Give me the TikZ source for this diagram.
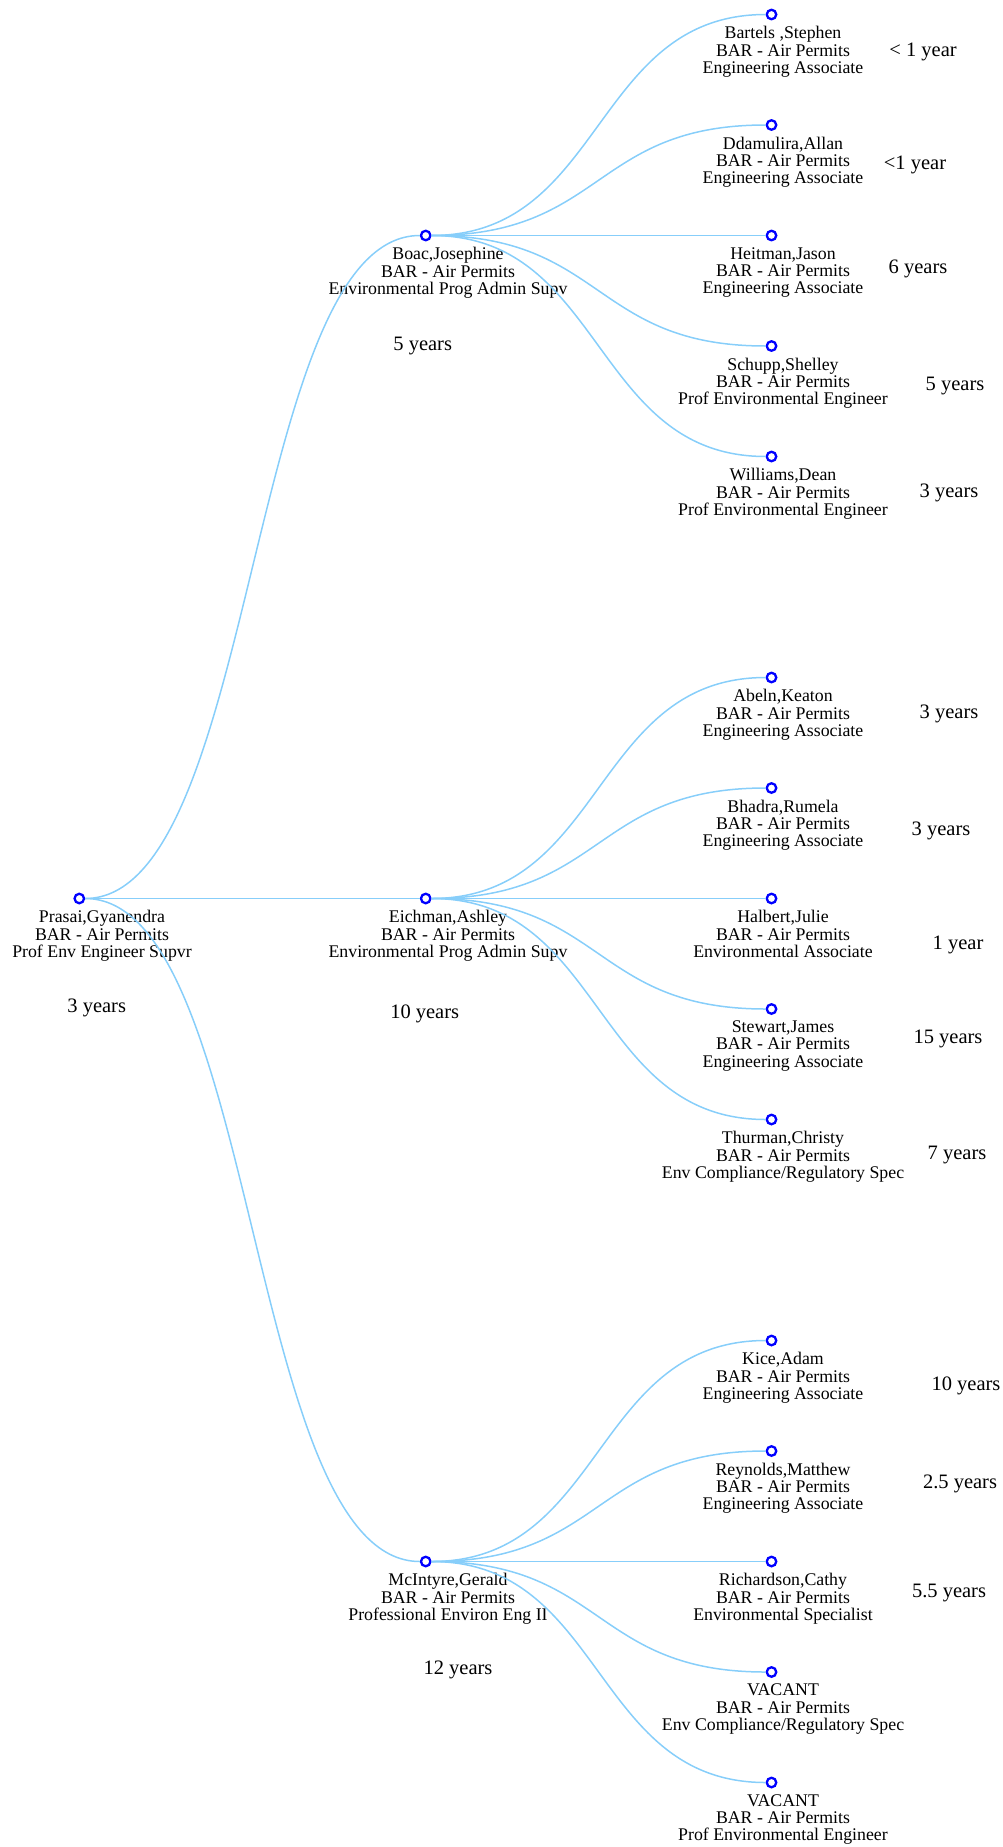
\documentclass[tikz,border=0pt]{standalone}
\usepackage{fontspec}
\setmainfont{Liberation Serif}
\usetikzlibrary{positioning}
\definecolor{linkblue}{RGB}{135,206,250}
\tikzstyle{person} = [draw=blue, circle, fill=white, line width=2.3pt, minimum size=9.5pt, inner sep=0pt]
\tikzstyle{info} = [align=center, inner sep=0pt, outer sep=0pt, font=\fontsize{17.8}{17.3}\selectfont]
\tikzstyle{tenure} = [anchor=base, inner sep=0pt, font=\fontsize{20.5}{24}\selectfont]
\tikzstyle{link} = [draw=linkblue, line width=1.5pt, out=0, in=180, distance=173pt]

\begin{document}
\begin{tikzpicture}[x=1pt, y=-1pt]
    \useasboundingbox (0,0) rectangle (1003,1847);

    % Nodes
    \node[person] (root) at (79.3,898.5) {};
    \node[person] (boac) at (425.7,235.5) {};
    \node[person] (eichman) at (425.7,898.5) {};
    \node[person] (mcintyre) at (425.7,1561.5) {};

    \node[person] (bartels) at (771.5,14.5) {};
    \node[person] (ddamulira) at (771.5,125) {};
    \node[person] (heitman) at (771.5,235.5) {};
    \node[person] (schupp) at (771.5,346) {};
    \node[person] (williams) at (771.5,456.5) {};

    \node[person] (abeln) at (771.5,677.5) {};
    \node[person] (bhadra) at (771.5,788) {};
    \node[person] (halbert) at (771.5,898.5) {};
    \node[person] (stewart) at (771.5,1009) {};
    \node[person] (thurman) at (771.5,1119.5) {};

    \node[person] (kice) at (771.5,1340.5) {};
    \node[person] (reynolds) at (771.5,1451) {};
    \node[person] (richardson) at (771.5,1561.5) {};
    \node[person] (vacantA) at (771.5,1672) {};
    \node[person] (vacantB) at (771.5,1782.5) {};

    % Labels
    \node[info, below=6pt of root, xshift=22.7pt] (rootinfo) {Prasai,Gyanendra\\BAR - Air Permits\\Prof Env Engineer Supvr};
    \node[info, below=6pt of boac, xshift=22.3pt] (boacinfo) {Boac,Josephine\\BAR - Air Permits\\Environmental Prog Admin Supv};
    \node[info, below=6pt of eichman, xshift=22.3pt] (eichmaninfo) {Eichman,Ashley\\BAR - Air Permits\\Environmental Prog Admin Supv};
    \node[info, below=6pt of mcintyre, xshift=22.3pt] (mcintyreinfo) {McIntyre,Gerald\\BAR - Air Permits\\Professional Environ Eng II};

    \node[info, below=6pt of bartels, xshift=11.5pt] (bartelsinfo) {Bartels ,Stephen\\BAR - Air Permits\\Engineering Associate};
    \node[info, below=6pt of ddamulira, xshift=11.5pt] (ddamulirainfo) {Ddamulira,Allan\\BAR - Air Permits\\Engineering Associate};
    \node[info, below=6pt of heitman, xshift=11.5pt] (heitmaninfo) {Heitman,Jason\\BAR - Air Permits\\Engineering Associate};
    \node[info, below=6pt of schupp, xshift=11.5pt] (schuppinfo) {Schupp,Shelley\\BAR - Air Permits\\Prof Environmental Engineer};
    \node[info, below=6pt of williams, xshift=11.5pt] (williamsinfo) {Williams,Dean\\BAR - Air Permits\\Prof Environmental Engineer};

    \node[info, below=6pt of abeln, xshift=11.5pt] (abelninfo) {Abeln,Keaton\\BAR - Air Permits\\Engineering Associate};
    \node[info, below=6pt of bhadra, xshift=11.5pt] (bhadrainfo) {Bhadra,Rumela\\BAR - Air Permits\\Engineering Associate};
    \node[info, below=6pt of halbert, xshift=11.5pt] (halbertinfo) {Halbert,Julie\\BAR - Air Permits\\Environmental Associate};
    \node[info, below=6pt of stewart, xshift=11.5pt] (stewartinfo) {Stewart,James\\BAR - Air Permits\\Engineering Associate};
    \node[info, below=6pt of thurman, xshift=11.5pt] (thurmaninfo) {Thurman,Christy\\BAR - Air Permits\\Env Compliance/Regulatory Spec};

    \node[info, below=6pt of kice, xshift=11.5pt] (kiceinfo) {Kice,Adam\\BAR - Air Permits\\Engineering Associate};
    \node[info, below=6pt of reynolds, xshift=11.5pt] (reynoldsinfo) {Reynolds,Matthew\\BAR - Air Permits\\Engineering Associate};
    \node[info, below=6pt of richardson, xshift=11.5pt] (richardsoninfo) {Richardson,Cathy\\BAR - Air Permits\\Environmental Specialist};
    \node[info, below=6pt of vacantA, xshift=11.5pt] (vacantAinfo) {VACANT\\BAR - Air Permits\\Env Compliance/Regulatory Spec};
    \node[info, below=6pt of vacantB, xshift=11.5pt] (vacantBinfo) {VACANT\\BAR - Air Permits\\Prof Environmental Engineer};

    % Years
    \node[tenure] (rootyrs) at (96.7,1012) {3 years};
    \node[tenure] (boacyrs) at (422.7,350) {5 years};
    \node[tenure] (eichmanyrs) at (424.7,1018) {10 years};
    \node[tenure] (mcintyreyrs) at (458,1674) {12 years};

    \node[tenure] (bartelsyrs) at (923,56) {< 1 year};
    \node[tenure] (ddamulirayrs) at (915,169) {<1 year};
    \node[tenure] (heitmanyrs) at (918,273) {6 years};
    \node[tenure] (schuppyrs) at (955,390) {5 years};
    \node[tenure] (williamsyrs) at (949,497) {3 years};

    \node[tenure] (abelnyrs) at (949,718) {3 years};
    \node[tenure] (bhadrayrs) at (941,835) {3 years};
    \node[tenure] (halbertyrs) at (958,949) {1 year};
    \node[tenure] (stewartyrs) at (948,1043) {15 years};
    \node[tenure] (thurmanyrs) at (957,1159) {7 years};

    \node[tenure] (kiceyrs) at (966,1390) {10 years};
    \node[tenure] (reynoldsyrs) at (960,1488) {2.5 years};
    \node[tenure] (richardsonyrs) at (949,1597) {5.5 years};

    % Edges
    \draw[link] (root) to (boac);
    \draw[link] (root) to (eichman);
    \draw[link] (root) to (mcintyre);

    \draw[link] (boac) to (bartels);
    \draw[link] (boac) to (ddamulira);
    \draw[link] (boac) to (heitman);
    \draw[link] (boac) to (schupp);
    \draw[link] (boac) to (williams);

    \draw[link] (eichman) to (abeln);
    \draw[link] (eichman) to (bhadra);
    \draw[link] (eichman) to (halbert);
    \draw[link] (eichman) to (stewart);
    \draw[link] (eichman) to (thurman);

    \draw[link] (mcintyre) to (kice);
    \draw[link] (mcintyre) to (reynolds);
    \draw[link] (mcintyre) to (richardson);
    \draw[link] (mcintyre) to (vacantA);
    \draw[link] (mcintyre) to (vacantB);
\end{tikzpicture}
\end{document}
